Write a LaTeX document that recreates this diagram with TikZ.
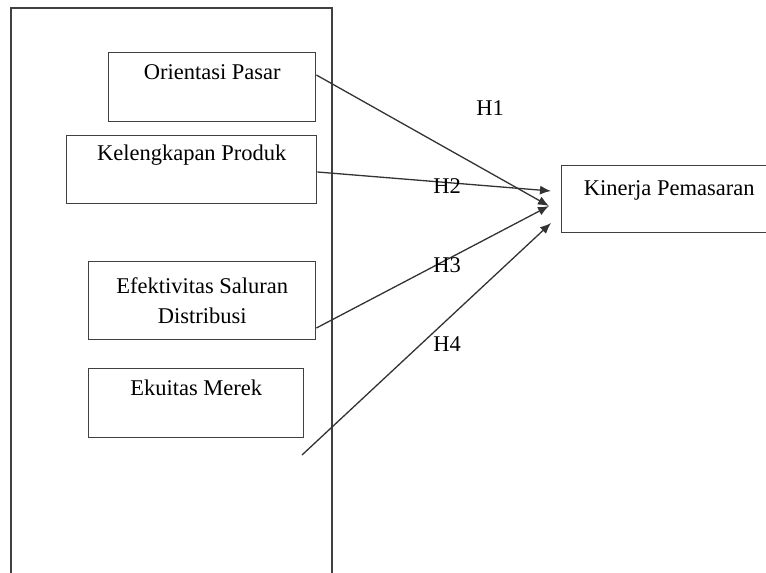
\documentclass[tikz,border=0pt]{standalone}
\usepackage{fontspec}
\setmainfont{Liberation Serif}
\usetikzlibrary{arrows.meta}

\begin{document}
\begin{tikzpicture}[x=1pt,y=-1pt,
  box/.style={draw=black!75, line width=1.4, fill=white, anchor=north west, inner sep=0},
  lbl/.style={font=\fontsize{22.5}{30}\selectfont, inner sep=0},
  hyp/.style={line width=1.3, draw=black!80, -{Latex[length=11pt,width=9pt]}}]

\useasboundingbox (0,0) rectangle (766,573);

% Outer frame (open at the bottom)
\draw[line width=1.4, black!75] (11,575) -- (11,8) -- (332,8) -- (332,575);

% Boxes
\node[box, minimum width=207, minimum height=69] (orientasi) at (108,52) {};
\node[box, minimum width=250, minimum height=68] (kelengkapan) at (66,135) {};
\node[box, minimum width=227, minimum height=78] (saluran) at (88,261) {};
\node[box, minimum width=215, minimum height=69] (ekuitas) at (88,368) {};
\node[box, minimum width=215, minimum height=67] (kinerja) at (561,165) {};

% Box texts
\node[lbl, anchor=base] at ([yshift=-27pt]orientasi.north) {Orientasi Pasar};
\node[lbl, anchor=base] at ([yshift=-25pt]kelengkapan.north) {Kelengkapan Produk};
\node[lbl, align=center] at ([yshift=-40pt]saluran.north) {Efektivitas Saluran\\Distribusi};
\node[lbl, anchor=base] at ([yshift=-27pt]ekuitas.north) {Ekuitas Merek};
\node[lbl, anchor=base] at ([xshift=0pt,yshift=-30pt]kinerja.north) {Kinerja Pemasaran};

% Start and end points of the paths
\coordinate (s1) at ([yshift=-23pt]orientasi.north east);
\coordinate (s2) at ([yshift=-37pt]kelengkapan.north east);
\coordinate (s3) at ([yshift=-67pt]saluran.north east);
\coordinate (s4) at (302,455);
\coordinate (e1) at (549,206);
\coordinate (e2) at (551,191);
\coordinate (e3) at (549,206);
\coordinate (e4) at (551,223);

% Hypotheses
\draw[hyp] (s1) -- (e1);
\draw[hyp] (s2) -- (e2);
\draw[hyp] (s3) -- (e3);
\draw[hyp] (s4) -- (e4);

\node[lbl, anchor=base] (h1) at (490,115) {H1};
\node[lbl, anchor=base] (h2) at (447,193) {H2};
\node[lbl, anchor=base] (h3) at (447,272) {H3};
\node[lbl, anchor=base] (h4) at (447,351) {H4};

\end{tikzpicture}
\end{document}
